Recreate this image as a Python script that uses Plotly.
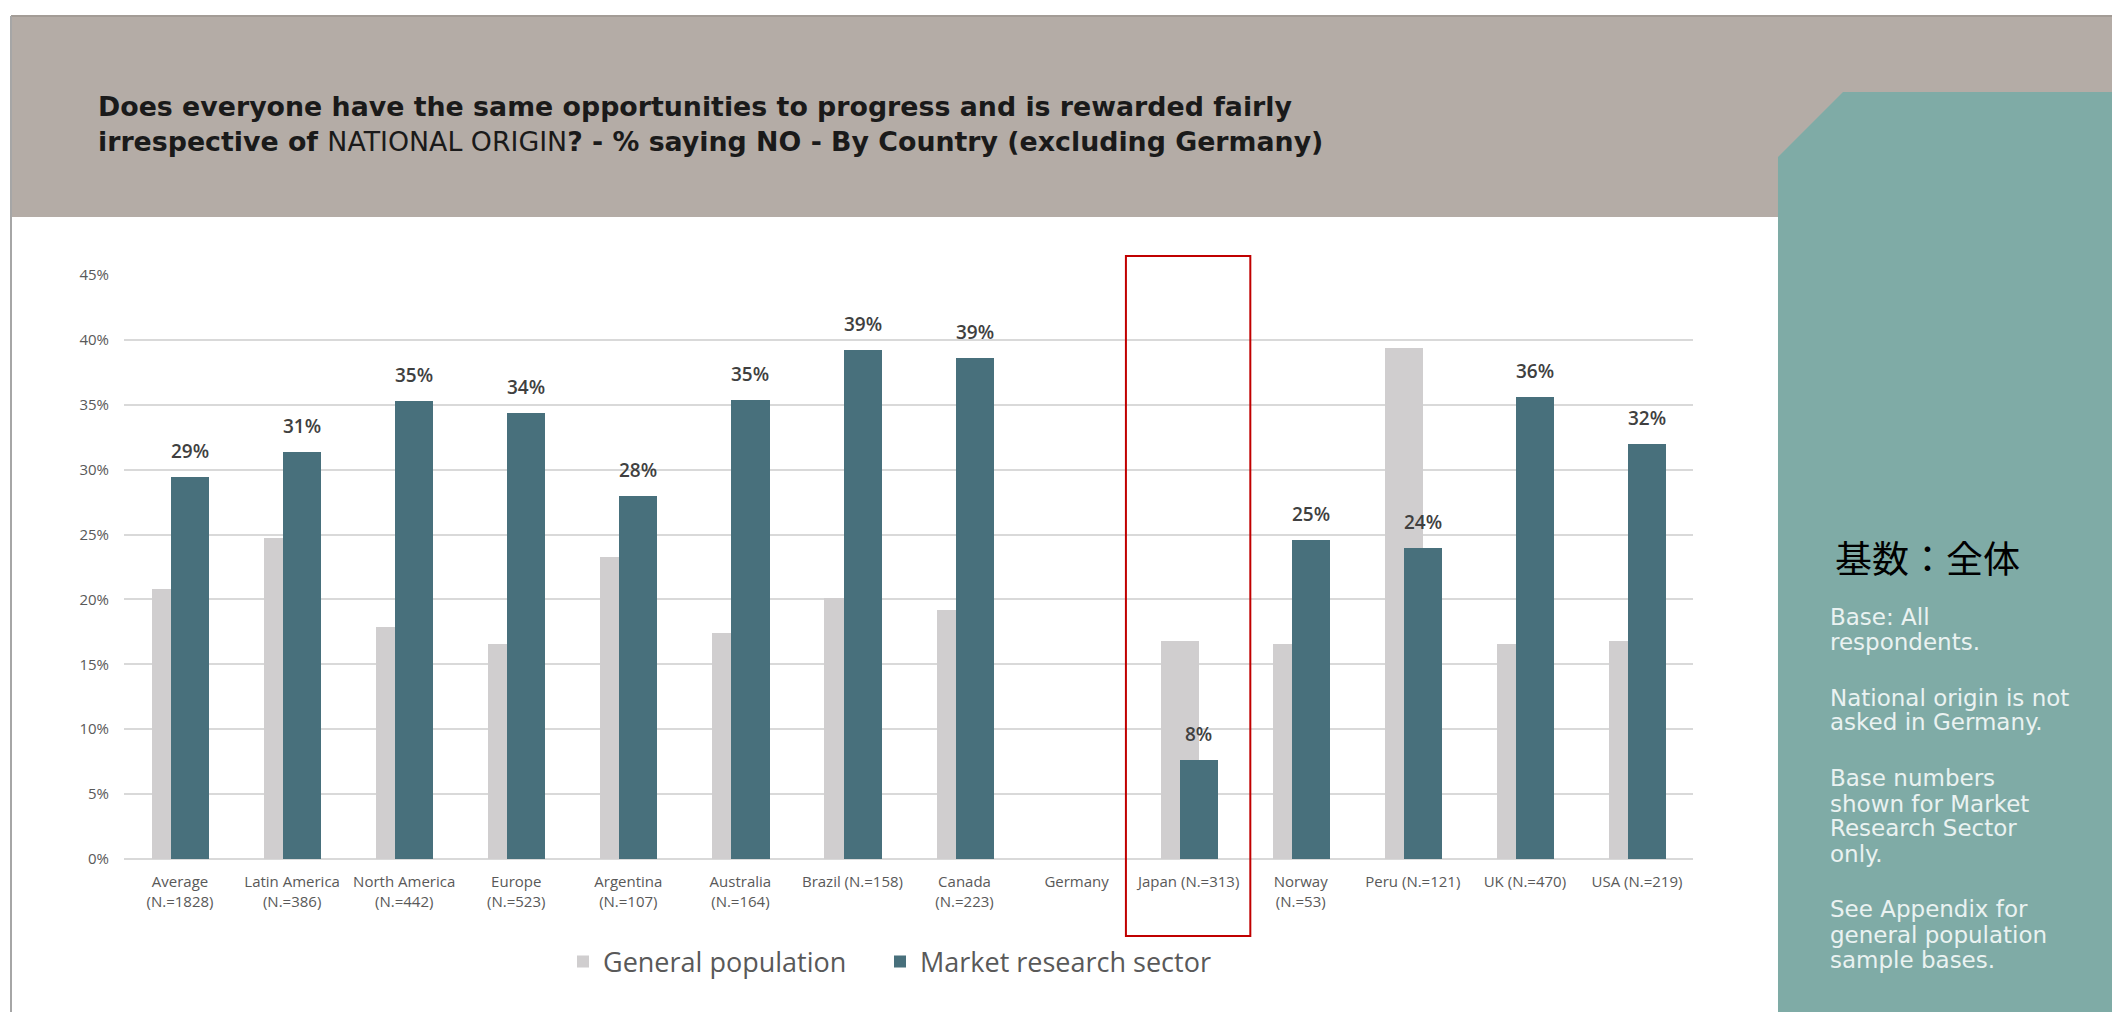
import plotly.graph_objects as go

# ---- data -------------------------------------------------------------
categories = [
    "Average<br>(N.=1828)", "Latin America<br>(N.=386)", "North America<br>(N.=442)",
    "Europe<br>(N.=523)", "Argentina<br>(N.=107)", "Australia<br>(N.=164)",
    "Brazil (N.=158)", "Canada<br>(N.=223)", "Germany", "Japan (N.=313)",
    "Norway<br>(N.=53)", "Peru (N.=121)", "UK (N.=470)", "USA (N.=219)",
]
general_population = [20.8, 24.7, 17.9, 16.6, 23.3, 17.4, 20.1, 19.2, None, 16.8, 16.6, 39.4, 16.6, 16.8]
market_research = [29.4, 31.4, 35.3, 34.4, 28.0, 35.4, 39.2, 38.6, None, 7.6, 24.6, 24.0, 35.6, 32.0]
y_ticks = [0, 5, 10, 15, 20, 25, 30, 35, 40, 45]
y_tick_labels = [f"{t}%" for t in y_ticks]
highlight = "Japan (N.=313)"

# ---- page geometry ------------------------------------------------------
W, H = 2112, 1012
ML, MR, MT, MB = 124, 419, 275, 153
PW, PH = W - ML - MR, H - MT - MB


def px(x):
    return (x - ML) / PW


def py(y):
    return (H - MB - y) / PH


GREY = "#d0cecf"
TEAL_DARK = "#48707c"
BAR_W = 0.34
GREY_OFF = -0.25
DARK_OFF = -0.08

n = len(categories)
pos = list(range(n))

fig = go.Figure()
fig.add_trace(go.Bar(
    x=pos, y=general_population, name="General population",
    marker=dict(color=GREY, line=dict(width=0)),
    width=BAR_W, offset=GREY_OFF, hoverinfo="skip", legend="legend",
))
fig.add_trace(go.Bar(
    x=pos, y=market_research, name="Market research sector",
    marker=dict(color=TEAL_DARK, line=dict(width=0)),
    width=BAR_W, offset=DARK_OFF, hoverinfo="skip", legend="legend2",
))

annotations = []
# value labels over the market research bars
for i, v in zip(pos, market_research):
    if v is None:
        continue
    annotations.append(dict(
        x=i + DARK_OFF + BAR_W / 2, y=v, xref="x", yref="y",
        text=f"{v:.0f}%", showarrow=False, yanchor="bottom", yshift=11,
        font=dict(family="Open Sans", size=19, color="#404040", weight=600),
    ))

shapes = []
# header band
shapes.append(dict(type="rect", xref="paper", yref="paper",
                   x0=px(11), x1=px(W), y0=py(217), y1=py(16),
                   fillcolor="#b4aca6", line=dict(width=0), layer="below"))
shapes.append(dict(type="line", xref="paper", yref="paper",
                   x0=px(11), x1=px(W), y0=py(16), y1=py(16),
                   line=dict(color="#a39c96", width=2), layer="below"))
# left frame edge
shapes.append(dict(type="line", xref="paper", yref="paper",
                   x0=px(11), x1=px(11), y0=py(16), y1=py(H),
                   line=dict(color="#a6a6a6", width=2), layer="below"))
# side panel with clipped corner
pts = [(1778, 157), (1843, 92), (W, 92), (W, H), (1778, H)]
path = "M " + " L ".join(f"{px(a):.5f},{py(b):.5f}" for a, b in pts) + " Z"
shapes.append(dict(type="path", xref="paper", yref="paper", path=path,
                   fillcolor="#7faba6", line=dict(width=0), layer="below"))
# highlight box around Japan
j = categories.index(highlight)
shapes.append(dict(type="rect", xref="paper", yref="paper",
                   x0=(j - 0.56 + 0.5) / n, x1=(j + 0.55 + 0.5) / n,
                   y0=py(936), y1=py(256),
                   line=dict(color="#c00000", width=2), fillcolor="rgba(0,0,0,0)"))

TITLE_FONT = dict(family="DejaVu Sans", size=26.8, color="#1a1a1a")
annotations += [
    dict(xref="paper", yref="paper", x=px(96), y=py(107), xanchor="left", yanchor="middle",
         showarrow=False, align="left",
         text="<b>Does everyone have the same opportunities to progress and is rewarded fairly</b>",
         font=TITLE_FONT),
    dict(xref="paper", yref="paper", x=px(96), y=py(141), xanchor="left", yanchor="middle",
         showarrow=False, align="left",
         text="<b>irrespective of </b>NATIONAL ORIGIN<b>? - % saying NO - By Country (excluding Germany)</b>",
         font=TITLE_FONT),
    dict(xref="paper", yref="paper", x=px(1833), y=py(557), xanchor="left", yanchor="middle",
         showarrow=False, text="基数：全体",
         font=dict(family="Noto Sans CJK JP", size=37, color="#000000", weight=400)),
]

# side-panel notes, one entry per printed line
note_lines = [
    (617, "Base: All"), (642, "respondents."),
    (698, "National origin is not"), (722, "asked in Germany."),
    (778, "Base numbers"), (804, "shown for Market"), (828, "Research Sector"), (854, "only."),
    (909, "See Appendix for"), (935, "general population"), (960, "sample bases."),
]
for yc, txt in note_lines:
    annotations.append(dict(
        xref="paper", yref="paper", x=px(1828), y=py(yc),
        xanchor="left", yanchor="middle", align="left", showarrow=False, text=txt,
        font=dict(family="DejaVu Sans", size=23, color="#eaf2f1"),
    ))

LEGEND_STYLE = dict(orientation="h", yanchor="middle", y=py(962), xanchor="left",
                    font=dict(family="Open Sans", size=27, color="#595959"),
                    itemclick=False, bgcolor="rgba(0,0,0,0)")

fig.update_layout(
    width=W, height=H,
    margin=dict(l=ML, r=MR, t=MT, b=MB, pad=0),
    paper_bgcolor="#ffffff", plot_bgcolor="rgba(0,0,0,0)",
    barmode="overlay", bargap=0,
    showlegend=True,
    legend=dict(x=px(563), **LEGEND_STYLE),
    legend2=dict(x=px(880), **LEGEND_STYLE),
    shapes=shapes, annotations=annotations,
    xaxis=dict(range=[-0.5, n - 0.5], tickmode="array", tickvals=pos, ticktext=categories,
               showgrid=False, showline=False, zeroline=False, ticks="",
               tickfont=dict(family="Open Sans", size=15, color="#595959"),
               ticklabelstandoff=12, tickangle=0),
    yaxis=dict(range=[0, 45], tickmode="array", tickvals=y_ticks, ticktext=y_tick_labels,
               showgrid=True, gridcolor="#d9d9d9", gridwidth=1.5,
               zeroline=True, zerolinecolor="#d9d9d9", zerolinewidth=1.5,
               showline=False, ticks="",
               tickfont=dict(family="Open Sans", size=15, color="#595959"),
               ticklabelstandoff=14),
)

fig.write_html("out.html")
